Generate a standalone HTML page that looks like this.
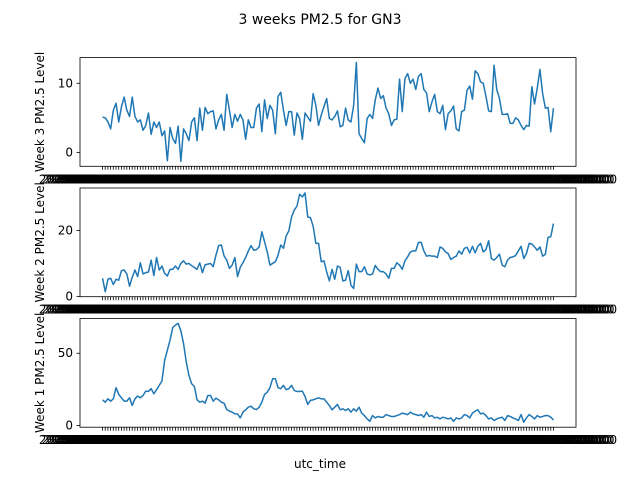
<!DOCTYPE html>
<html><head><meta charset="utf-8"><style>
body{margin:0;background:#fff}
svg{display:block;font-family:"DejaVu Sans","Liberation Sans",sans-serif}
</style></head><body>
<svg id="chart" width="640" height="480" viewBox="0 0 640 480">
<rect width="640" height="480" fill="#fff"/>
<text x="320" y="24" text-anchor="middle" font-size="14">3 weeks PM2.5 for GN3</text>
<text x="320" y="468" text-anchor="middle" font-size="12">utc_time</text>
</svg>
<script>
const week3Values=[5.1,5.0,4.4,3.4,6.1,7.1,4.4,6.6,8.0,6.1,5.2,8.0,5.2,4.4,4.7,3.2,3.9,5.7,2.6,4.4,3.6,4.4,2.4,3.1,-1.2,3.6,2.0,1.3,3.8,-1.3,3.4,2.7,1.7,4.4,5.0,1.7,6.4,3.2,6.5,5.6,5.9,6.0,3.4,4.7,5.5,3.2,8.4,6.1,3.6,5.5,4.5,5.5,4.7,1.9,4.7,3.6,3.6,6.4,7.0,3.0,7.6,4.9,6.8,6.1,2.7,8.1,8.7,6.1,3.9,5.9,5.9,2.5,5.7,4.9,1.9,5.7,5.1,4.5,8.5,6.8,3.9,5.4,6.6,7.8,4.9,4.7,5.2,6.0,3.7,3.9,6.4,4.7,4.4,6.8,13.0,2.7,2.0,1.4,4.9,5.5,4.9,7.6,9.3,7.8,8.2,6.4,5.6,3.9,4.7,4.8,10.6,5.9,10.7,11.4,10.0,10.6,9.1,11.0,11.4,9.1,8.6,5.9,7.3,8.4,5.9,5.6,6.8,3.3,5.6,6.0,6.7,3.4,3.1,5.9,6.1,9.0,9.6,7.7,11.8,11.4,10.2,10.0,8.1,6.0,5.9,12.6,9.1,7.8,5.5,5.5,5.6,4.2,4.2,5.0,4.7,3.9,3.3,3.9,3.8,9.5,7.0,9.3,12.0,8.5,6.4,6.5,3.0,6.4];
const week2Values=[5.5,1.4,5.2,5.5,3.6,5.2,4.9,7.8,8.0,6.8,3.1,5.8,8.0,6.0,10.2,6.8,7.2,7.4,11.0,6.3,11.8,8.0,9.2,7.0,6.2,8.2,8.2,9.2,8.2,10.0,10.8,9.8,10.0,9.3,8.8,8.2,10.2,7.2,9.6,9.8,10.0,9.0,12.5,15.4,15.6,12.3,11.0,8.5,9.5,11.8,6.0,8.8,10.2,11.8,13.8,15.4,14.0,14.2,15.0,19.6,16.6,13.5,9.5,10.0,10.5,12.5,15.6,14.6,18.3,19.9,24.1,26.2,27.4,31.0,30.2,31.4,24.1,23.9,21.3,16.1,16.1,10.5,10.8,7.5,4.7,8.2,5.2,9.2,8.8,4.7,4.9,7.8,3.4,2.4,9.8,7.5,7.5,9.0,6.8,6.5,6.8,9.4,8.2,7.5,7.5,6.8,5.5,8.5,8.5,10.2,9.5,8.2,10.8,12.0,13.5,13.8,13.8,16.4,16.4,13.8,12.2,12.4,12.2,12.2,11.8,15.0,14.6,13.5,13.0,11.2,11.8,12.2,13.8,12.8,14.6,14.9,13.2,15.2,13.2,15.2,16.1,13.5,14.2,16.9,11.5,11.0,11.8,12.8,9.5,9.0,11.0,11.8,12.0,12.4,13.8,15.2,11.5,13.0,16.1,15.9,15.0,14.0,15.0,12.2,12.8,17.9,18.1,22.1];
const week1Values=[17.8,16.2,18.5,16.9,18.5,26.2,21.5,19.2,16.9,16.9,19.2,13.9,18.5,20.4,19.2,20.8,23.8,23.6,25.5,22.0,24.8,27.8,30.8,45.1,52.1,59.0,67.8,69.4,70.6,65.5,56.7,44.0,34.7,28.9,27.1,17.8,16.2,16.9,15.5,20.8,20.8,16.9,19.0,17.8,16.2,15.5,11.1,10.0,9.3,8.1,8.1,5.3,9.3,10.9,12.7,13.4,11.6,11.1,12.7,16.2,21.5,23.1,26.2,32.4,32.4,26.2,25.5,27.8,24.8,25.5,27.8,24.3,23.6,23.6,23.8,20.1,14.6,17.4,17.8,18.5,19.2,18.5,18.5,16.2,13.9,10.9,12.7,14.6,10.9,11.6,10.4,11.6,9.3,11.6,10.0,12.7,8.6,6.9,4.6,3.0,6.9,5.3,6.3,5.8,5.8,7.6,6.9,6.3,6.3,6.9,7.6,8.6,8.1,7.6,9.3,8.1,7.6,6.9,7.6,5.8,9.3,6.3,6.9,5.3,5.8,4.6,5.8,5.3,4.6,5.3,3.0,5.3,4.6,5.3,7.6,6.9,5.3,8.6,10.0,10.9,8.1,8.6,6.9,4.6,5.3,3.5,4.6,5.3,5.8,3.5,6.9,6.3,5.3,4.6,3.5,7.6,2.3,5.3,7.6,6.3,4.6,6.9,5.8,6.3,6.9,6.9,5.8,3.9];
const week3Ticks=[0,10];
const week2Ticks=[0,20];
const week1Ticks=[0,50];
const panelTitles=["Week 3 PM2.5 Level","Week 2 PM2.5 Level","Week 1 PM2.5 Level"];

const NS="http://www.w3.org/2000/svg";
const svg=document.getElementById('chart');
function mk(tag,attrs,parent){const e=document.createElementNS(NS,tag);for(const k in attrs)e.setAttribute(k,attrs[k]);(parent||svg).appendChild(e);return e;}
function dateLabel(i){const d=new Date(Date.UTC(2020,0,1,0,0,0)+i*3600000);return d.toISOString().slice(0,19).replace('T',' ');}

const X0=80,X1=576;
const panels=[{t:57.6,b:166.3,v:week3Values,ticks:week3Ticks,key:'week3'},{t:188.0,b:296.7,v:week2Values,ticks:week2Ticks,key:'week2'},{t:318.5,b:427.2,v:week1Values,ticks:week1Ticks,key:'week1'}];
panels.forEach((p,pi)=>{
  const g=mk('g',{});
  
  
  const n=p.v.length;
  const span=n-1, xm=span*0.05;
  const xs=i=>X0+(i+xm)/(span+2*xm)*(X1-X0);
  const mn=Math.min(...p.v),mx=Math.max(...p.v),ym=(mx-mn)*0.05;
  const lo=mn-ym,hi=mx+ym;
  const ys=v=>p.b-(v-lo)/(hi-lo)*(p.b-p.t);
  let td='';
  for(let i=0;i<n;i++){const x=xs(i).toFixed(1);td+=`M${x},${p.b}v3.5`;}
  const xt=mk('path',{d:td,stroke:'#000','stroke-width':0.8,fill:'none'},g);
  
  
  const lg=mk('g',{'font-size':12,'text-anchor':'middle'},g);
  
  
  for(let i=0;i<n;i++){const t=mk('text',{x:xs(i),y:p.b+17},lg);t.textContent=dateLabel(i+pi*168);}
  p.ticks.forEach(tv=>{
    const y=ys(tv);
    mk('line',{x1:X0-3.5,x2:X0,y1:y,y2:y,stroke:'#000','stroke-width':0.8},g);
    const t=mk('text',{x:X0-7,y:y+4,'text-anchor':'end','font-size':12},g);
    
    
    t.textContent=tv;
  });
  const yl=mk('text',{x:0,y:0,'font-size':12,'text-anchor':'middle',transform:`translate(44,${(p.t+p.b)/2}) rotate(-90)`},g);
  
  
  yl.textContent=panelTitles[pi];
  let d='';
  p.v.forEach((v,i)=>{d+=(i?'L':'M')+xs(i).toFixed(2)+','+ys(v).toFixed(2);});
  const line=mk('path',{d:d,stroke:'#1f77b4','stroke-width':1.5,fill:'none','stroke-linejoin':'round'},g);
  
  
  const fr=mk('rect',{x:X0,y:p.t,width:X1-X0,height:p.b-p.t,fill:'none',stroke:'#000','stroke-width':0.8},g);
  
  
});
</script>
</body></html>
